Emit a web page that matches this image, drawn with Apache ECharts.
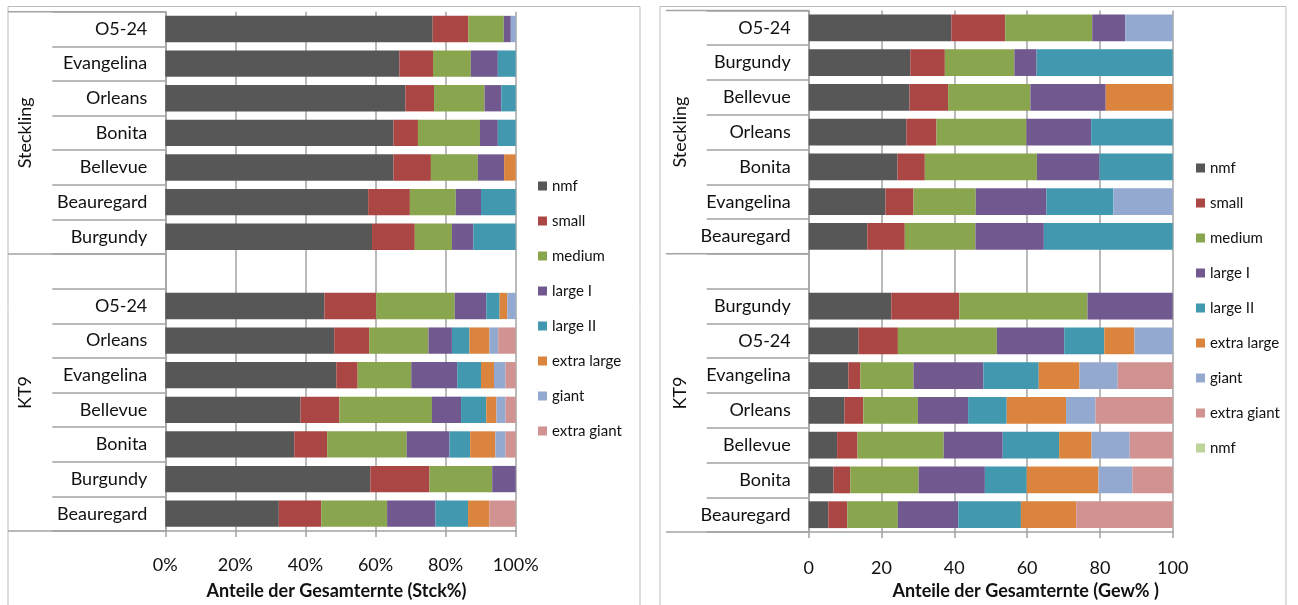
<!DOCTYPE html>
<html>
<head>
<meta charset="utf-8">
<script src="https://cdn.jsdelivr.net/npm/echarts@6/dist/echarts.min.js"></script>
<style>
  html, body { margin: 0; padding: 0; background: #fff; }
  #chart { width: 1298px; height: 605px; }
</style>
</head>
<body>
<div id="chart"></div>
<script>
// Size classes shared by both panels
const seriesNames = ['nmf', 'small', 'medium', 'large I', 'large II', 'extra large', 'giant', 'extra giant'];
const seriesColors = ['#575757', '#aa4643', '#89a54e', '#71588f', '#4198af', '#db843d', '#93a9cf', '#d19392'];
const extraName = 'nmf ';
const extraColor = '#bcd39a';

// Groups (top to bottom): Steckling rows, then KT9 (blank spacer row + cultivars)
const groupNames = ['Steckling', 'KT9'];
const groupStarts = [0, 7, 15];

// ---- Left panel: share of total harvest by count (Stck%) ----
const catsCount = ['O5-24', 'Evangelina', 'Orleans', 'Bonita', 'Bellevue', 'Beauregard', 'Burgundy', '',
                   'O5-24', 'Orleans', 'Evangelina', 'Bellevue', 'Bonita', 'Burgundy', 'Beauregard'];
const countNmf        = [76.3, 66.8, 68.5, 65.1, 65.1, 57.9, 59.0, null, 45.4, 48.2, 48.8, 38.6, 36.8, 58.5, 32.4];
const countSmall      = [10.2,  9.6,  8.2,  7.0, 10.7, 11.9, 12.2, null, 14.8, 10.0,  6.1, 11.1,  9.4, 16.9, 12.1];
const countMedium     = [10.1, 10.8, 14.4, 17.7, 13.4, 13.1, 10.6, null, 22.4, 16.9, 15.3, 26.4, 22.7, 17.9, 18.8];
const countLargeI     = [ 2.0,  7.7,  4.8,  5.1,  7.5,  7.2,  6.1, null,  9.0,  6.7, 13.1,  8.3, 12.2,  6.7, 13.8];
const countLargeII    = [ 0,    5.1,  4.1,  5.1,  0,    9.9, 12.1, null,  3.8,  5.0,  6.8,  7.2,  5.9,  0,    9.3];
const countExtraLarge = [ 0,    0,    0,    0,    3.3,  0,    0,   null,  2.2,  5.7,  3.7,  2.9,  7.2,  0,    6.1];
const countGiant      = [ 1.4,  0,    0,    0,    0,    0,    0,   null,  2.4,  2.5,  3.3,  2.6,  2.9,  0,    0];
const countExtraGiant = [ 0,    0,    0,    0,    0,    0,    0,   null,  0,    5.0,  2.9,  2.9,  2.9,  0,    7.5];
const countTicks = [0, 20, 40, 60, 80, 100];

// ---- Right panel: share of total harvest by weight (Gew%) ----
const catsWeight = ['O5-24', 'Burgundy', 'Bellevue', 'Orleans', 'Bonita', 'Evangelina', 'Beauregard', '',
                    'Burgundy', 'O5-24', 'Evangelina', 'Orleans', 'Bellevue', 'Bonita', 'Beauregard'];
const weightNmf        = [39.2, 27.9, 27.7, 26.8, 24.4, 21.1, 16.1, null, 22.7, 13.7, 10.9,  9.8,  7.8,  6.8,  5.4];
const weightSmall      = [14.8,  9.5, 10.6,  8.3,  7.5,  7.7, 10.3, null, 18.7, 10.8,  3.3,  5.2,  5.6,  4.6,  5.2];
const weightMedium     = [23.9, 19.1, 22.6, 24.7, 30.8, 17.1, 19.4, null, 35.2, 27.2, 14.6, 15.0, 23.7, 18.8, 13.9];
const weightLargeI     = [ 9.1,  6.1, 20.7, 17.8, 17.2, 19.4, 18.8, null, 23.4, 18.5, 19.2, 13.8, 16.2, 18.2, 16.6];
const weightLargeII    = [ 0,   37.4,  0,   22.4, 20.1, 18.4, 35.4, null,  0,   11.0, 15.2, 10.6, 15.5, 11.5, 17.2];
const weightExtraLarge = [ 0,    0,   18.4,  0,    0,    0,    0,   null,  0,    8.3, 11.2, 16.3,  8.9, 19.7, 15.2];
const weightGiant      = [13.0,  0,    0,    0,    0,   16.3,  0,   null,  0,   10.5, 10.5,  8.1, 10.5,  9.3,  0];
const weightExtraGiant = [ 0,    0,    0,    0,    0,    0,    0,   null,  0,    0,   15.1, 21.2, 11.8, 11.1, 26.5];
const weightExtra      = [];
const weightTicks = [0, 20, 40, 60, 80, 100];

const countSeries = [countNmf, countSmall, countMedium, countLargeI, countLargeII, countExtraLarge, countGiant, countExtraGiant];
const weightSeries = [weightNmf, weightSmall, weightMedium, weightLargeI, weightLargeII, weightExtraLarge, weightGiant, weightExtraGiant];

const FONT = 'Lato, "Liberation Sans", sans-serif';
const GRID_GREY = '#a3a3a3';
const TEXT = '#111';

const chart = echarts.init(document.getElementById('chart'), null, { renderer: 'canvas' });

function xAxisFor(gridIndex, ticks, pct, name, nameGap, labelMargin, namePad) {
  return {
    type: 'value', gridIndex, min: ticks[0], max: ticks[ticks.length - 1],
    interval: ticks[1] - ticks[0],
    axisLine: { show: true, lineStyle: { color: GRID_GREY, width: 1.5 } },
    axisTick: { show: true, length: 6, lineStyle: { color: GRID_GREY, width: 1.5 } },
    splitLine: { show: true, lineStyle: { color: GRID_GREY, width: 1.5 } },
    axisLabel: { color: TEXT, fontSize: 18, fontFamily: FONT, margin: labelMargin,
                 formatter: pct ? '{value}%' : '{value}' },
    name, nameLocation: 'middle', nameGap,
    nameTextStyle: { color: TEXT, fontSize: 18, fontWeight: 'bold', fontFamily: FONT, padding: namePad }
  };
}

function yAxisFor(gridIndex, cats, tickLen) {
  return {
    type: 'category', gridIndex, data: cats, inverse: true,
    axisLine: { show: true, lineStyle: { color: GRID_GREY, width: 1.5 } },
    axisTick: { show: true, length: tickLen, lineStyle: { color: GRID_GREY, width: 1.5 } },
    axisLabel: { color: TEXT, fontSize: 18, fontFamily: FONT, margin: 18 }
  };
}

const series = [];
countSeries.forEach((data, i) => {
  series.push({ name: seriesNames[i], type: 'bar', stack: 'count', xAxisIndex: 0, yAxisIndex: 0,
                data, barCategoryGap: '24%', itemStyle: { color: seriesColors[i] } });
});
weightSeries.forEach((data, i) => {
  series.push({ name: seriesNames[i], type: 'bar', stack: 'weight', xAxisIndex: 1, yAxisIndex: 1,
                data, barCategoryGap: '23%', itemStyle: { color: seriesColors[i] } });
});
series.push({ name: extraName, type: 'bar', stack: 'weight', xAxisIndex: 1, yAxisIndex: 1,
              data: weightExtra, itemStyle: { color: extraColor } });

const legendBase = {
  orient: 'vertical', icon: 'rect', itemWidth: 9, itemHeight: 9, itemGap: 15,
  textStyle: { color: TEXT, fontSize: 15, fontFamily: FONT, lineHeight: 20 },
  selectedMode: false
};

chart.setOption({
  animation: false,
  backgroundColor: '#fff',
  grid: [
    { left: 165.3, top: 11.7, width: 350.4, height: 519.8 },
    { left: 808.7, top: 10.4, width: 364, height: 528.4 }
  ],
  xAxis: [
    xAxisFor(0, countTicks, true, 'Anteile der Gesamternte (Stck%)', 51, 25, [0, 8, 0, 0]),
    xAxisFor(1, weightTicks, false, 'Anteile der Gesamternte (Gew% )', 43, 27, [0, 0, 0, 70])
  ],
  yAxis: [
    yAxisFor(0, catsCount, 113),
    yAxisFor(1, catsWeight, 102)
  ],
  legend: [
    Object.assign({}, legendBase, { left: 533, top: 171, data: seriesNames }),
    Object.assign({}, legendBase, { left: 1191, top: 153, data: seriesNames.concat([extraName]) })
  ],
  series
});

// Frames, group separator lines and rotated group labels of the two-level category axes
function groupGraphics(axisIndex, leftX, labelX) {
  const els = [];
  const axisX = chart.convertToPixel({ xAxisIndex: axisIndex }, 0);
  const y0 = chart.convertToPixel({ yAxisIndex: axisIndex }, 0);
  const y1 = chart.convertToPixel({ yAxisIndex: axisIndex }, 1);
  const band = y1 - y0;
  const edge = idx => y0 + (idx - 0.5) * band;
  groupStarts.forEach(idx => {
    const y = edge(idx);
    els.push({ type: 'line', shape: { x1: leftX, y1: y, x2: axisX, y2: y },
               style: { stroke: GRID_GREY, lineWidth: 1.5 }, silent: true });
  });
  groupNames.forEach((g, k) => {
    const cy = (edge(groupStarts[k]) + edge(groupStarts[k + 1])) / 2;
    els.push({ type: 'text', x: labelX, y: cy, rotation: Math.PI / 2,
               style: { text: g, fill: TEXT, font: '18px ' + FONT, align: 'center', verticalAlign: 'middle' },
               silent: true });
  });
  return els;
}

const frames = [
  { type: 'rect', shape: { x: 8, y: 6.5, width: 632, height: 620 },
    style: { fill: null, stroke: '#bdbdbd', lineWidth: 1 }, silent: true, z: -1 },
  { type: 'rect', shape: { x: 660, y: 6.5, width: 626, height: 620 },
    style: { fill: null, stroke: '#bdbdbd', lineWidth: 1 }, silent: true, z: -1 }
];

chart.setOption({
  graphic: frames.concat(groupGraphics(0, 8, 25), groupGraphics(1, 666, 680))
});
</script>
</body>
</html>
